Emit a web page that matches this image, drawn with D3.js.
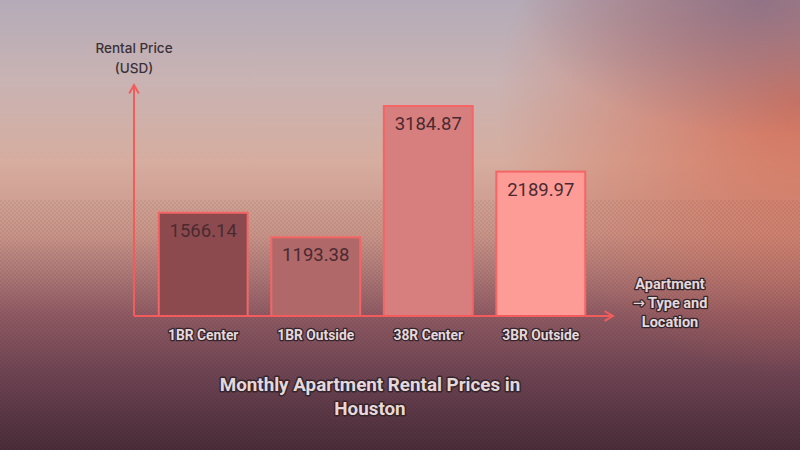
<!DOCTYPE html>
<html>
<head>
<meta charset="utf-8">
<script src="https://cdn.jsdelivr.net/npm/d3@7"></script>
<style>
  html, body { margin: 0; padding: 0; background: #6a4350; }
  svg { display: block; }
</style>
</head>
<body>
<svg id="chart" width="800" height="450"></svg>
<script>
// chart data
const categories = ["1BR Center", "1BR Outside", "38R Center", "3BR Outside"];
const prices = [1566.14, 1193.38, 3184.87, 2189.97];
const barColors = ["#8c4a4f", "#b06869", "#d77f7e", "#fd9c96"];

const svg = d3.select("#chart");
const width = +svg.attr("width");
const height = +svg.attr("height");
const margin = { left: 134, right: 190, top: 85, bottom: 134 };
const baseY = height - margin.bottom;

const defs = svg.append("defs");

// background gradients
const bg = defs.append("linearGradient").attr("id", "bg").attr("x1", 0).attr("y1", 0).attr("x2", 0).attr("y2", 1);
[["0%", "#b4abb8"], ["18%", "#c9b3b3"], ["36%", "#d6ad9f"], ["52%", "#c99488"],
 ["70%", "#8f5a63"], ["85%", "#6a4150"], ["100%", "#4a2d39"]]
  .forEach(([o, c]) => bg.append("stop").attr("offset", o).attr("stop-color", c));

const glow = defs.append("radialGradient").attr("id", "glow")
  .attr("cx", 1.0).attr("cy", 0.22).attr("r", 0.38).attr("gradientTransform", "scale(1,1.6) translate(0,-0.08)");
glow.append("stop").attr("offset", "0%").attr("stop-color", "#d4684f").attr("stop-opacity", 0.85);
glow.append("stop").attr("offset", "100%").attr("stop-color", "#d4684f").attr("stop-opacity", 0);

const topShade = defs.append("radialGradient").attr("id", "topShade")
  .attr("cx", 0.95).attr("cy", 0).attr("r", 0.3);
topShade.append("stop").attr("offset", "0%").attr("stop-color", "#7a6a88").attr("stop-opacity", 0.7);
topShade.append("stop").attr("offset", "100%").attr("stop-color", "#7a6a88").attr("stop-opacity", 0);

// fine checker texture
const pat = defs.append("pattern").attr("id", "tex").attr("width", 4).attr("height", 4)
  .attr("patternUnits", "userSpaceOnUse");
pat.append("rect").attr("width", 2).attr("height", 2).attr("fill", "#000").attr("opacity", 0.05);
pat.append("rect").attr("x", 2).attr("y", 2).attr("width", 2).attr("height", 2).attr("fill", "#000").attr("opacity", 0.05);

svg.append("rect").attr("width", width).attr("height", height).attr("fill", "url(#bg)");
svg.append("rect").attr("width", width).attr("height", height).attr("fill", "url(#glow)");
svg.append("rect").attr("width", width).attr("height", height).attr("fill", "url(#topShade)");
svg.append("rect").attr("y", 200).attr("width", width).attr("height", height - 200).attr("fill", "url(#tex)");

// arrow marker
defs.append("marker").attr("id", "arrow").attr("viewBox", "0 0 10 10")
  .attr("refX", 8).attr("refY", 5).attr("markerWidth", 6).attr("markerHeight", 6)
  .attr("orient", "auto")
  .append("path").attr("d", "M1,1 L8,5 L1,9").attr("fill", "none")
  .attr("stroke", "#f25c5c").attr("stroke-width", 1.6);

// scales
const x = d3.scaleBand().domain(categories)
  .range([margin.left, width - margin.right])
  .paddingInner(0.21).paddingOuter(0.22);
const y = d3.scaleLinear().domain([0, d3.max(prices) * 1.1]).range([baseY, margin.top]);

// bars
const bars = svg.append("g").selectAll("g").data(categories).join("g");
bars.append("rect")
  .attr("x", d => x(d))
  .attr("y", (d, i) => y(prices[i]))
  .attr("width", x.bandwidth())
  .attr("height", (d, i) => baseY - y(prices[i]))
  .attr("fill", (d, i) => barColors[i])
  .attr("stroke", "#f56565")
  .attr("stroke-width", 2);
bars.append("text")
  .attr("x", d => x(d) + x.bandwidth() / 2)
  .attr("y", (d, i) => y(prices[i]) + 24)
  .attr("text-anchor", "middle")
  .attr("font-family", "Roboto, sans-serif")
  .attr("font-size", 18.5)
  .attr("fill", "#4a2a30")
  .text((d, i) => prices[i].toFixed(2));

const outlined = sel => sel
  .attr("font-family", "Roboto, sans-serif")
  .attr("font-weight", 700)
  .attr("fill", "#e6d8da")
  .attr("stroke", "#35252c")
  .attr("stroke-width", 2.6)
  .attr("stroke-linejoin", "round")
  .attr("paint-order", "stroke");

// axes
const xAxis = svg.append("g").attr("transform", `translate(0,${baseY})`)
  .call(d3.axisBottom(x).tickSize(0).tickPadding(14));
xAxis.select(".domain").remove();
xAxis.selectAll("text").attr("font-size", 13.8).call(outlined);

svg.append("line")
  .attr("x1", margin.left).attr("y1", baseY)
  .attr("x2", width - margin.right + 3).attr("y2", baseY)
  .attr("stroke", "#f25c5c").attr("stroke-width", 2)
  .attr("marker-end", "url(#arrow)");
svg.append("line")
  .attr("x1", margin.left).attr("y1", baseY)
  .attr("x2", margin.left).attr("y2", margin.top)
  .attr("stroke", "#f25c5c").attr("stroke-width", 2)
  .attr("marker-end", "url(#arrow)");

// axis titles
const yTitle = svg.append("text")
  .attr("text-anchor", "middle")
  .attr("font-family", "Inter, sans-serif")
  .attr("font-size", 13.5)
  .attr("font-weight", 500)
  .attr("fill", "#3c3038");
["Rental Price", "(USD)"].forEach((t, i) =>
  yTitle.append("tspan").attr("x", margin.left).attr("y", 53 + i * 20).text(t));

const xTitle = svg.append("text").attr("text-anchor", "middle").attr("font-size", 14.5).call(outlined);
xTitle.append("tspan").attr("x", 670).attr("y", 289).text("Apartment");
xTitle.append("tspan").attr("x", 670).attr("y", 308)
  .append("tspan").attr("font-family", "DejaVu Sans, sans-serif").attr("font-weight", 400).text("→");
xTitle.select("tspan:nth-child(2)").append("tspan").text(" Type and");
xTitle.append("tspan").attr("x", 670).attr("y", 327).text("Location");

const title = svg.append("text").attr("text-anchor", "middle").attr("font-size", 18.8).call(outlined)
  .attr("stroke-width", 3);
const cx = (margin.left + width - margin.right) / 2;
["Monthly Apartment Rental Prices in", "Houston"].forEach((t, i) =>
  title.append("tspan").attr("x", cx - 2).attr("y", 391 + i * 24).text(t));
</script>
</body>
</html>
